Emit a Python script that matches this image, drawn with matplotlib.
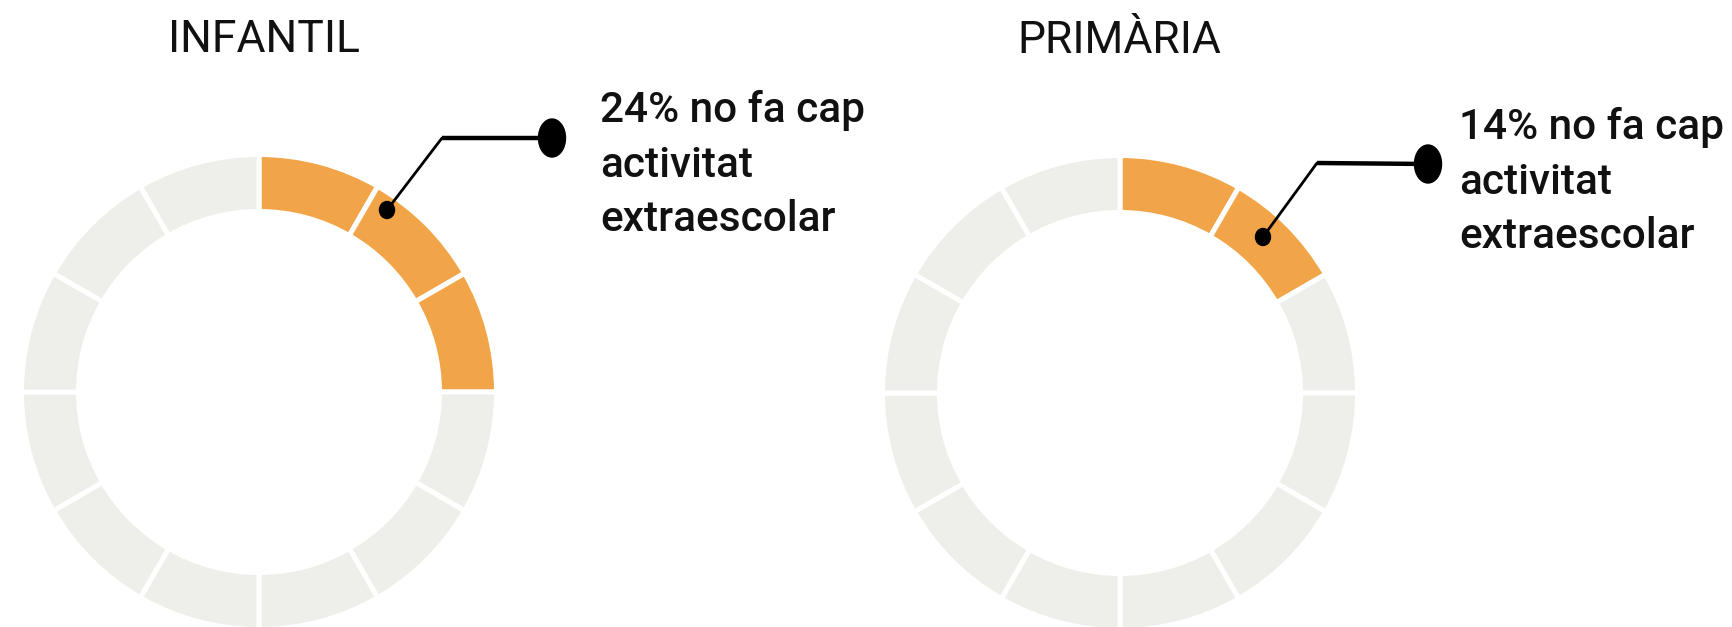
import matplotlib
matplotlib.use('Agg')
import matplotlib.pyplot as plt
from matplotlib.patches import Ellipse
import numpy as np

# dades
groups = ['INFANTIL', 'PRIMÀRIA']
pct_none = [24, 14]
n_segments = 12
labels = ['{}% no fa cap\nactivitat\nextraescolar'.format(p) for p in pct_none]

orange = '#F2A548'
grey = '#EEEFEA'
font = ['Roboto', 'DejaVu Sans']

W, H = 1732, 627
fig = plt.figure(figsize=(W / 100, H / 100), dpi=100)
ax = fig.add_axes([0, 0, 1, 1])

# posicions (pixels, y cap amunt)
centers = [(259, H - 392), (1120, H - 393)]
r_out, r_in = 235, 183
gap = 3.6
title_pos = [(264, H - 52), (1119, H - 53)]
big_dot = [(552, H - 138), (1428, H - 164)]
corner = [(442, H - 138), (1317, H - 163)]
small_dot = [(387, H - 210), (1263, H - 237)]
text_pos = [(600, H - 90), (1459, H - 107)]

for i, g in enumerate(groups):
    filled = int(round(pct_none[i] / 100 * n_segments))
    cols = [orange] * filled + [grey] * (n_segments - filled)
    ax.pie(np.ones(n_segments), colors=cols, startangle=90, counterclock=False,
           center=centers[i], radius=r_out + gap / 2 * 1.39,
           wedgeprops=dict(width=r_out - r_in + gap * 1.39, edgecolor='white', linewidth=gap))

    ax.text(title_pos[i][0], title_pos[i][1], g, ha='center', va='baseline',
            fontsize=32, family=font, color='#111111')

    # linia guia
    ax.plot([big_dot[i][0], corner[i][0]], [big_dot[i][1], corner[i][1]],
            color='black', lw=3.2, solid_capstyle='butt', zorder=5)
    ax.plot([corner[i][0], small_dot[i][0]], [corner[i][1], small_dot[i][1]],
            color='black', lw=2.0, solid_capstyle='round', zorder=5)
    ax.add_patch(Ellipse(big_dot[i], 27, 38, color='black', zorder=6))
    ax.add_patch(Ellipse(small_dot[i], 15, 17, color='black', zorder=6))

    ax.text(text_pos[i][0], text_pos[i][1], labels[i], ha='left', va='top',
            fontsize=30.5, family=font, fontweight='medium', color='#111111',
            linespacing=1.42)

ax.set_xlim(0, W)
ax.set_ylim(0, H)
ax.set_aspect('equal')
ax.axis('off')

fig.savefig('out.png', dpi=100)
